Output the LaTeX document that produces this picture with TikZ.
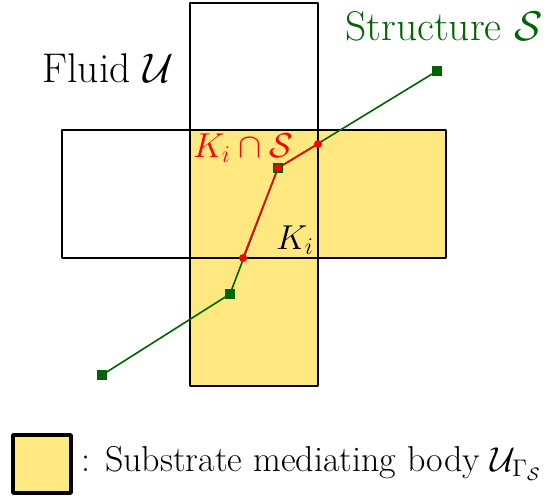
\documentclass[tikz,border=0pt]{standalone}
\usepackage{amsmath,amssymb}
\usetikzlibrary{positioning,calc}
\definecolor{subyellow}{RGB}{255,232,128}
\definecolor{strgreen}{RGB}{0,100,0}

\begin{document}
\begin{tikzpicture}[x=0.5pt, y=-0.5pt, line join=bevel, font=\LARGE,
  cell/.style={draw, line width=1pt},
  vtx/.style={fill=strgreen, minimum size=5pt, inner sep=0pt},
  hit/.style={circle, fill=red, minimum size=4pt, inner sep=0pt}]
\useasboundingbox (0,0) rectangle (553,495);
% cells: yellow ones first, then all outlines
\fill[subyellow] (190,130) rectangle (446,258); \fill[subyellow] (190,258) rectangle (318,386);
\draw[cell] (190,3) rectangle (318,130); \draw[cell] (62,130) rectangle (190,258); \draw[cell] (190,130) rectangle (318,258);
\draw[cell] (318,130) rectangle (446,258); \draw[cell] (190,258) rectangle (318,386);
% structure
\coordinate (P1) at (102,375); \coordinate (P2) at (230,294); \coordinate (P3) at (278,168); \coordinate (P4) at (437,71);
\coordinate (Q1) at (243,258); \coordinate (Q2) at (318,144);
\draw[strgreen, line width=0.8pt] (P1) -- (P2) -- (P3) -- (P4);
\draw[red, line width=0.8pt] (Q1) -- (P3) -- (Q2);
\foreach \p in {P1,P2,P3,P4} \node[vtx] at (\p) {};
\foreach \q in {Q1,P3,Q2} \node[hit] at (\q) {};
% labels
\node[font=\huge] (fluid) at (108,68) {Fluid $\mathcal{U}$};
\node[font=\huge, text=strgreen, inner sep=1pt] (struct) at (444,26) {Structure $\mathcal{S}$};
\node[text=red] (cap) at (243,148) {$K_i\cap\mathcal{S}$};
\node (cell) at (295,240) {$K_i$};
% legend
\node[draw, line width=2pt, fill=subyellow, minimum size=29pt, inner sep=0pt] (key) at (41.5,463.5) {};
\node[right=1pt of key, font=\fontsize{18}{22}\selectfont] (keytxt) {: Substrate mediating body $\mathcal{U}_{\Gamma_{\mathcal{S}}}$};
\end{tikzpicture}
\end{document}
